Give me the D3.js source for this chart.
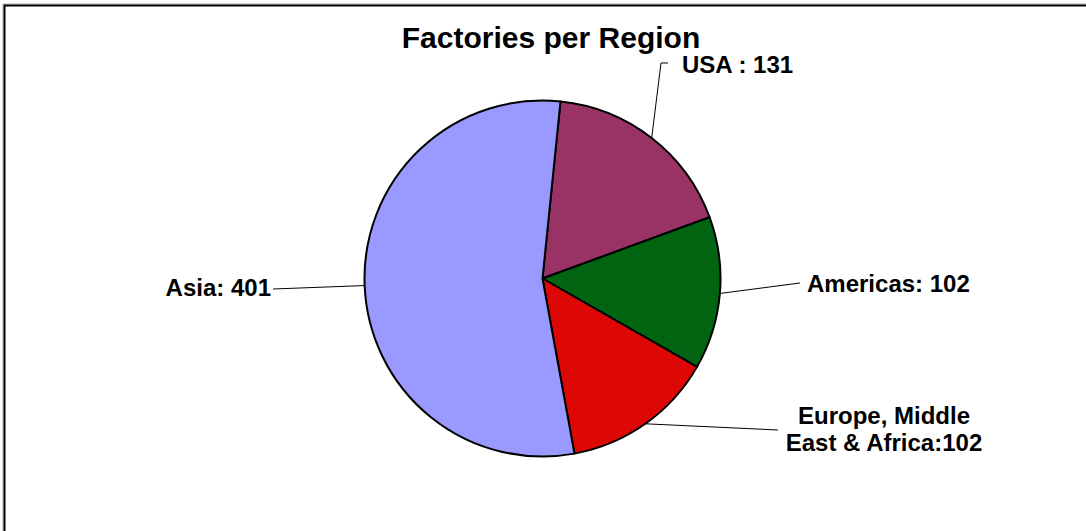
<!DOCTYPE html>
<html><head><meta charset="utf-8">
<script src="https://cdn.jsdelivr.net/npm/d3@7"></script>
<style>html,body{margin:0;padding:0;background:#fff;overflow:hidden}</style>
</head><body>
<script>
const categories = ["USA", "Americas", "Europe, Middle East & Africa", "Asia"];
const values = [131, 102, 102, 401];
const labelLines = [["USA : 131"], ["Americas: 102"], ["Europe, Middle", "East & Africa:102"], ["Asia: 401"]];
const colors = ["#993366", "#006411", "#DD0806", "#9999FF"];
const title = "Factories per Region";

const W = 1086, H = 531;
const cx = 542.5, cy = 278.5, R = 178;
const startDeg = 5.8;

const svg = d3.select("body").append("svg").attr("width", W).attr("height", H)
  .style("font-family", "Arial, 'Liberation Sans', sans-serif");

// frame
svg.append("path").attr("d", `M3,${H+10} V4 H${W+10}`).attr("fill", "none").attr("stroke", "#aaa").attr("stroke-width", 1);
svg.append("path").attr("d", `M4.5,${H+10} V5.5 H${W+10}`).attr("fill", "none").attr("stroke", "#000").attr("stroke-width", 2);

svg.append("text").attr("x", 551).attr("y", 48).attr("text-anchor", "middle")
  .attr("font-size", 30).attr("font-weight", "bold").text(title);

const data = categories.map((c, i) => ({ cat: c, value: values[i], color: colors[i], lines: labelLines[i] }));
const start = startDeg * Math.PI / 180;
const pie = d3.pie().value(d => d.value).sort(null).startAngle(start).endAngle(start + 2 * Math.PI);
const arcs = pie(data);
const arc = d3.arc().innerRadius(0).outerRadius(R);

const g = svg.append("g").attr("transform", `translate(${cx},${cy})`);
g.selectAll("path.slice").data(arcs).join("path").attr("class", "slice")
  .attr("d", arc).attr("fill", d => d.data.color)
  .attr("stroke", "#000").attr("stroke-width", 2).attr("stroke-linejoin", "round");

// label layout (positions relative to page)
const layout = [
  { tx: 682, ty: 73, anchor: "start", elbow: [[661, 63], [668, 63]] },
  { tx: 807, ty: 292, anchor: "start", elbow: [[800, 283]] },
  { tx: 884, ty: 424, anchor: "middle", elbow: [[778, 430]], lh: 27 },
  { tx: 271, ty: 296, anchor: "end", elbow: [[273, 289]] }
];

arcs.forEach((a, i) => {
  const mid = (a.startAngle + a.endAngle) / 2;
  const px = cx + R * Math.sin(mid), py = cy - R * Math.cos(mid);
  const L = layout[i];
  const pts = [[px, py], ...L.elbow];
  svg.append("path").attr("d", d3.line()(pts)).attr("fill", "none").attr("stroke", "#000").attr("stroke-width", 1);
  const t = svg.append("text").attr("x", L.tx).attr("y", L.ty).attr("text-anchor", L.anchor)
    .attr("font-size", 24).attr("font-weight", "bold");
  a.data.lines.forEach((ln, j) => {
    t.append("tspan").attr("x", L.tx).attr("y", L.ty + j * (L.lh || 0)).text(ln);
  });
});
</script>
</body></html>
